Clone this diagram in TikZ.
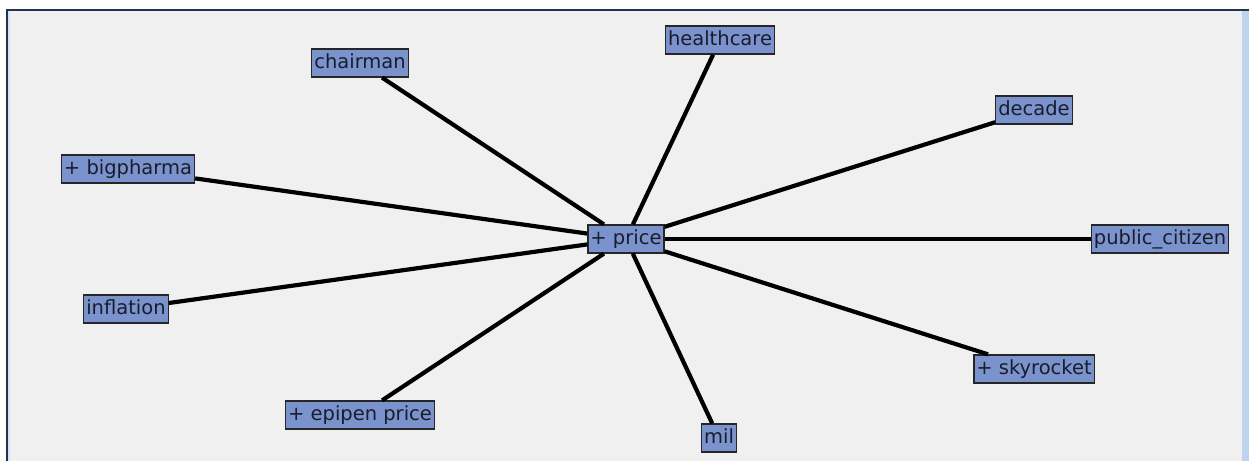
\documentclass[tikz,border=0pt]{standalone}
\usepackage{fontspec}
\setmainfont{DejaVu Sans}
\definecolor{termblue}{RGB}{122,147,205}
\definecolor{termtext}{RGB}{26,28,44}
\definecolor{panel}{RGB}{240,240,240}
\definecolor{frameblue}{RGB}{34,51,80}
\definecolor{scrollblue}{RGB}{190,212,238}
\definecolor{edgeblue}{RGB}{214,228,245}

\begin{document}
\begin{tikzpicture}[x=1pt,y=-1pt]
      \tikzstyle{word}=[draw=black!85, fill=termblue, line width=1.3pt, inner xsep=2.5pt, inner ysep=0pt, text height=14.5pt, text depth=4.5pt, minimum height=28pt, text=termtext, font=\fontsize{19.5}{21}\selectfont]
      \tikzstyle{link}=[line width=4.2pt, black]
      \useasboundingbox (0,0) rectangle (1249,461);
      % window
      \fill [white] (0,0) rectangle (1249,461);
      \fill [panel] (7,10) rectangle (1249,461);
      \fill [edgeblue] (8,11) rectangle (10,461);
      \fill [scrollblue] (1242,11) rectangle (1249,461);
      \draw [frameblue, line width=2.4pt] (7,461) -- (7,10) -- (1249,10);
      % terms
      \node [word] (price) at (626,239) {+ price};
      \node [word] (chairman) at (360,63) {chairman};
      \node [word] (healthcare) at (720,40) {healthcare};
      \node [word] (decade) at (1034,110) {decade};
      \node [word] (bigpharma) at (128,169) {+ bigpharma};
      \node [word] (citizen) at (1160,239) {public\_citizen};
      \node [word] (inflation) at (126,309) {inflation};
      \node [word] (epipen) at (360,415) {+ epipen price};
      \node [word] (mil) at (719,438) {mil};
      \node [word] (skyrocket) at (1034,369) {+ skyrocket};
      % links
      \foreach \t in {chairman,healthcare,decade,bigpharma,citizen,inflation,epipen,mil,skyrocket}
        \draw [link] (price) -- (\t);
    \end{tikzpicture}
\end{document}
